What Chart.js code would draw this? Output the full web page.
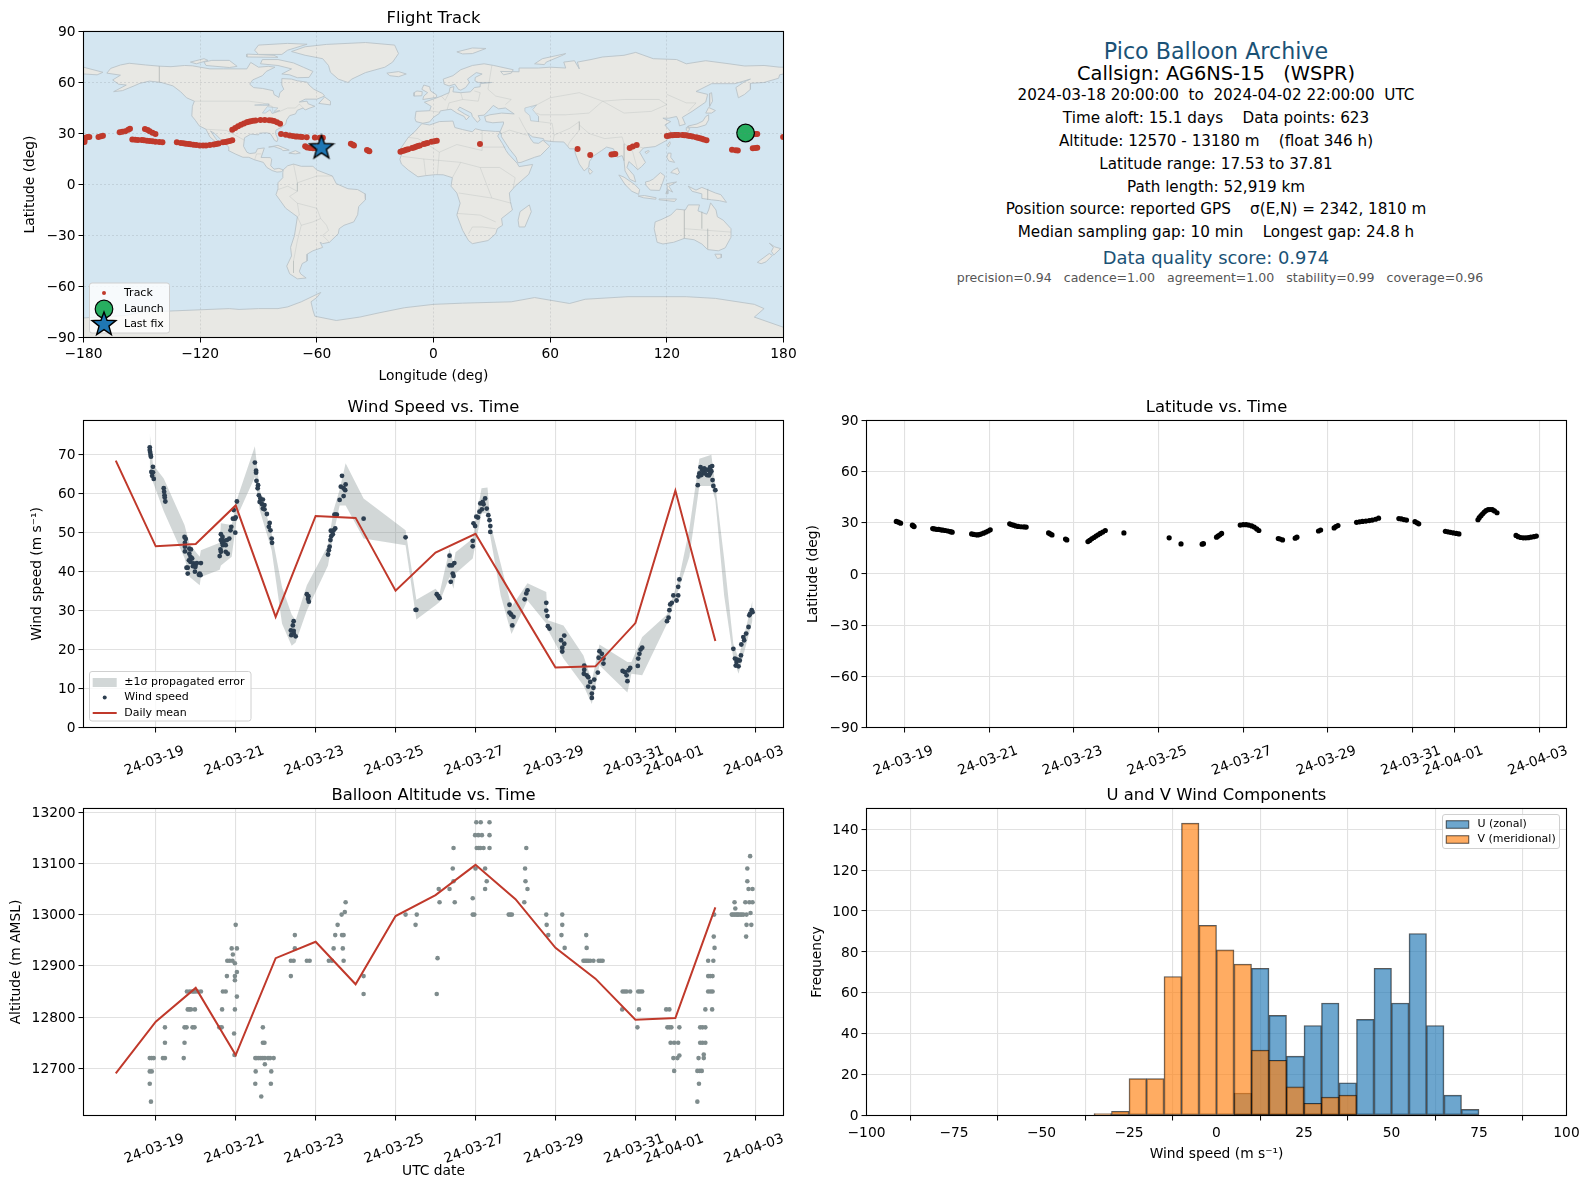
<!DOCTYPE html>
<html>
<head>
<meta charset="utf-8">
<title>Pico Balloon Archive</title>
<script src="https://cdn.jsdelivr.net/npm/chart.js@4"></script>
<style>
  html, body { margin: 0; padding: 0; background: #fff; }
  body { width: 1589px; height: 1189px; position: relative; overflow: hidden; font-family: "DejaVu Sans", sans-serif; }
  canvas { position: absolute; }
  .info { position: absolute; left: 1216px; transform: translate(-50%, -50%); white-space: pre; }
</style>
</head>
<body>
<canvas id="mapChart"></canvas>
<canvas id="windChart"></canvas>
<canvas id="latChart"></canvas>
<canvas id="altChart"></canvas>
<canvas id="histChart"></canvas>
<script>
// ---- data (x of the time series = days after 2024-03-19 00:00 UTC) ----
const dateTicks = [0, 2, 4, 6, 8, 10, 12, 13, 15];
const dateLabels = ["24-03-19", "24-03-21", "24-03-23", "24-03-25", "24-03-27", "24-03-29", "24-03-31", "24-04-01", "24-04-03"];
const lonTicks = [-180, -120, -60, 0, 60, 120, 180];
const lonLabels = ["−180", "−120", "−60", "0", "60", "120", "180"];
const latTicks = [-90, -60, -30, 0, 30, 60, 90];
const latLabels = ["−90", "−60", "−30", "0", "30", "60", "90"];
const windTicks = [0, 10, 20, 30, 40, 50, 60, 70];
const altTicks = [12700, 12800, 12900, 13000, 13100, 13200];
const freqTicks = [0, 20, 40, 60, 80, 100, 120, 140];
const histTicks = [-100, -75, -50, -25, 0, 25, 50, 75, 100];
const histLabels = ["−100", "−75", "−50", "−25", "0", "25", "50", "75", "100"];

const infoLines = [
  "Pico Balloon Archive",
  "Callsign: AG6NS-15   (WSPR)",
  "2024-03-18 20:00:00  to  2024-04-02 22:00:00  UTC",
  "Time aloft: 15.1 days    Data points: 623",
  "Altitude: 12570 - 13180 m    (float 346 h)",
  "Latitude range: 17.53 to 37.81",
  "Path length: 52,919 km",
  "Position source: reported GPS    σ(E,N) = 2342, 1810 m",
  "Median sampling gap: 10 min    Longest gap: 24.8 h",
  "Data quality score: 0.974",
  "precision=0.94   cadence=1.00   agreement=1.00   stability=0.99   coverage=0.96",
];

const dailyDays = [-1, 0, 1, 2, 3, 4, 5, 6, 7, 8, 9, 10, 11, 12, 13, 14];
const dailyWind = [68.5, 46.5, 47.1, 57, 28.4, 54.3, 53.8, 35.1, 44.9, 49.7, 32.5, 15.4, 15.7, 26.8, 60.8, 22.2];
const dailyAlt = [12690, 12791, 12857, 12726, 12915, 12947, 12864, 12997, 13038, 13097, 13030, 12935, 12875, 12795, 12798, 13014];

const windPoints = [
  [-.15,71.9],[-.15,71.2],[-.14,70.7],[-.13,70],[-.12,69.5],[-.07,66.9],[-.11,65.6],[-.07,65.5],[-.09,64.6],[-.05,63.8],
  [.2,61.4],[.21,60.5],[.22,59.6],[.225,59],[.24,58],
  [.72,48.9],[.75,48.4],[.73,47.4],[.73,46.4],[.84,45.9],[.88,45.7],[.73,45.2],[.84,44.6],[.87,43.8],[.83,42.9],[.91,43.4],[.87,42.5],[.8,41],[.77,41],[.95,42.1],[.99,41.6],[1.03,42.2],[1.13,42.2],[.93,41.4],[.99,41.2],[.8,39.5],[.98,40],[1.1,39.5],[1.12,39.1],[1.08,39.2],
  [1.63,49.6],[1.67,48.9],[1.63,48.1],[1.66,47.4],[1.72,47.9],[1.78,48.1],[1.68,46.8],[1.75,46.8],[1.62,45.7],[1.63,45.1],[1.6,44],[1.75,45.1],[1.8,44.6],[1.84,48.5],[1.87,50.6],[1.89,51.5],[1.99,50],[1.98,53.6],[1.93,53.6],[1.95,55.8],[2,53.9],[2.03,58],
  [2.48,68],[2.51,65.9],[2.51,65.4],[2.52,63.3],[2.56,62.2],[2.55,61.4],[2.58,59.6],[2.62,58.8],[2.68,58.5],[2.6,57.9],[2.66,57.3],[2.72,57.1],[2.68,56.2],[2.72,56],[2.78,54.8],[2.85,52.5],[2.83,51.5],[2.87,50.6],[2.9,48.5],[2.91,47.4],
  [3.45,27.3],[3.43,26.2],[3.38,24.9],[3.45,24.8],[3.39,23.7],[3.5,23.4],[3.45,24.2],[3.78,34.2],[3.82,33.7],[3.81,33],[3.83,32.3],
  [4.31,44.4],[4.33,45.5],[4.35,46.4],[4.37,48.1],[4.39,49.1],[4.43,49.6],[4.38,50.5],[4.49,51.1],[4.45,50.6],[4.47,54.6],[4.53,54.6],[4.5,54.6],[4.6,58.4],[4.7,59.4],[4.74,60.9],[4.7,61.4],[4.63,61.8],[4.75,62.4],[4.66,64.6],
  [5.2,53.6],[6.25,48.8],[6.52,30.2],[6.5,30.2],
  [7.03,34.2],[7.07,33.7],[7.1,33.2],[7.35,44.1],[7.35,41.6],[7.41,41.6],[7.47,42.2],[7.43,39.5],[7.45,38.9],[7.38,37.4],
  [7.93,46.5],[7.93,47.9],[7.95,52.4],[7.99,51.7],[8.02,54.1],[8.06,53.9],[8.1,55.4],[8.16,56],[8.12,57.5],[8.18,57.9],[8.24,58.8],[8.2,57.3],[8.28,56.2],[8.32,54.5],[8.35,53.2],[8.37,51.7],[8.37,50.2],
  [8.85,31.5],[8.85,29.5],[8.89,29],[8.95,28.4],[8.92,26.2],[9.3,35.2],[9.27,34.4],[9.23,32.9],[9.77,32],[9.77,30],[9.8,28.6],[9.81,26],[9.85,25.4],
  [10.22,23.6],[10.14,22.4],[10.22,21.5],[10.17,20.5],[10.17,19.5],
  [10.72,15.9],[10.72,14.8],[10.71,13.8],[10.78,13.4],[10.82,12.9],[10.87,11.7],[10.82,10.5],[10.95,10.2],[10.91,8.7],[10.91,7.6],[10.97,12.3],[11.06,14.1],
  [11.1,19.6],[11.16,18.9],[11.08,17.9],[11.2,17.7],[11.2,16.4],[11.68,14.5],[11.74,14.2],[11.83,14.7],[11.87,15.3],[11.78,13.4],[11.8,11.9],
  [12.06,15.8],[12.07,17.7],[12.1,18.9],[12.13,20],[12.17,20.5],[12.79,27.3],[12.83,28.2],[12.85,30.1],[12.87,31.6],[12.91,32],[12.95,33.9],[13.03,32.6],[13.07,33.9],[13.1,38],[13.07,36.1],
  [13.56,62.2],[13.6,65.2],[13.63,66.8],[13.7,65.6],[13.79,64.8],[13.83,66],[13.92,67.1],[13.87,65.2],[13.93,63.5],[13.95,62],[14,60.9],[13.58,64.4],[13.65,64.8],[13.74,65.2],[13.87,66.8],[13.77,66.2],[13.67,66],[13.72,66.5],[13.9,65.8],[13.84,64.7],
  [14.45,20.2],[14.49,17.7],[14.53,16.8],[14.58,15.7],[14.64,18.5],[14.65,21.3],[14.7,23.2],[14.77,24.1],[14.83,25.8],[14.85,28.8],[14.91,30.1],[14.93,29.6],[14.51,15.9],[14.55,17.4],[14.61,17.2],[14.72,22.4],[14.87,29.2],
];

const bandDays = [-.15, -.07, .2, .72, .85, 1.1, 1.13, 1.6, 1.63, 1.9, 2.03, 2.48, 2.6, 2.9, 3.16, 3.4, 3.5, 3.78, 4.31, 4.45, 4.6, 4.75, 5.2, 6.25, 6.52, 7, 7.1, 7.35, 7.45, 7.5, 7.93, 8.15, 8.3, 8.37, 8.63, 8.9, 9.3, 9.77, 9.81, 10.2, 10.7, 10.91, 11.1, 11.8, 11.9, 12.17, 12.79, 13.1, 13.35, 13.6, 13.9, 14, 14.22, 14.45, 14.58, 14.93];
const bandHigh = [75.5, 67.5, 63.9, 52, 47, 43.8, 45.5, 47.4, 52.4, 52, 58.5, 72.2, 61, 49.8, 36, 29, 27.5, 36.5, 46.8, 55.8, 61, 67.8, 58.8, 50.6, 32.8, 35.6, 34.4, 45.9, 42, 45, 48.5, 61.4, 61.6, 52.4, 42, 31, 37, 34.8, 27.5, 26.2, 18.5, 12, 21.3, 16.8, 16.8, 23.2, 29, 38.6, 51, 69, 70, 62, 43.4, 21.5, 17.7, 32.6];
const bandLow = [66, 63, 55.5, 43.5, 38.6, 36.5, 38.6, 40.5, 41.6, 43.8, 54, 64.3, 55.8, 45.5, 26.6, 21, 21.8, 30, 41.6, 49.8, 57, 57, 48.5, 46.8, 27.7, 31.4, 32.2, 38.6, 35.6, 39.5, 43.4, 55, 55, 49, 33.9, 24, 32.6, 26.7, 25, 17.7, 10.8, 6, 16, 9, 13.8, 13.4, 26.6, 36, 43.8, 62, 62, 58.4, 33.9, 17.7, 13.8, 27.5];

const altPoints = [
  [-.12,12635],[2.64,12645],[-.15,12670],[2.49,12670],[2.88,12670],[-.15,12694],[-.1,12694],[2.5,12694],[2.89,12694],[2.73,12708],
  [-.15,12720],[-.1,12720],[-.05,12720],[.18,12720],[.23,12720],[.7,12720],[2.49,12720],[2.53,12720],[2.58,12720],[2.63,12720],[2.68,12720],[2.73,12720],[2.81,12720],[2.86,12720],[2.95,12720],[1.97,12726],
  [.23,12750],[.72,12750],[2.68,12750],[2.72,12750],[1.96,12768],[.23,12780],[.72,12780],[.77,12780],[.92,12780],[.97,12780],[1.59,12780],[1.65,12780],[2.68,12780],
  [.8,12815],[.84,12815],[.88,12815],[.98,12815],[1.66,12815],[1.98,12815],
  [.78,12850],[.85,12850],[.91,12850],[.95,12850],[.99,12850],[1.05,12850],[1.13,12850],[1.68,12850],[1.75,12850],[2.03,12840],
  [1.78,12880],[1.98,12880],[3.38,12880],[5.2,12880],[1.98,12872],[2.03,12888],
  [1.79,12910],[1.85,12910],[1.92,12910],[3.38,12910],[3.45,12910],[3.78,12910],[3.85,12910],[4.33,12910],[4.41,12910],[4.7,12910],[1.98,12905],[1.93,12922],
  [1.9,12934],[2.03,12934],[3.48,12934],[4.45,12934],[4.68,12934],[3.48,12960],[4.49,12960],[4.66,12960],[4.7,12960],[2,12980],[4.55,12980],[6.5,12980],
  [4.65,13000],[6.25,13000],[6.53,13000],[4.73,13005],[4.75,13024],[5.2,12845],
  [7.05,12915],[7.03,12845],[7.08,13050],[7.35,13050],[8.24,13050],[9.3,13050],[7.1,13024],[7.48,13024],[9.22,13024],[7.45,13065],[8.28,13065],[9.25,13065],
  [7.43,13090],[8,13090],[8.24,13090],[9.24,13090],[7.45,13130],[8.03,13130],[8.08,13130],[8.12,13130],[8.2,13130],[8.35,13130],[9.27,13130],
  [7.99,13155],[8.07,13155],[8.16,13155],[8.35,13155],[8.02,13180],[8.13,13180],[8.35,13180],[7.93,13032],
  [7.93,13000],[7.97,13000],[8.83,13000],[8.87,13000],[8.91,13000],[9.77,13000],[10.17,13000],[14.41,13000],[14.44,13000],[14.48,13000],[14.52,13000],[14.55,13000],[14.58,13000],[14.62,13000],[14.66,13000],[14.7,13000],[14.78,13000],[13.97,13000],
  [9.78,12980],[10.17,12980],[14.78,12980],[14.9,12980],[9.82,12960],[10.15,12960],[10.77,12960],[13.96,12957],[14.77,12957],[10.23,12935],[10.78,12935],[13.98,12935],
  [10.7,12910],[10.74,12910],[10.78,12910],[10.82,12910],[10.87,12910],[10.95,12910],[11.08,12910],[11.13,12910],[11.18,12910],[13.82,12910],[13.95,12910],[13.82,12880],[13.87,12880],[13.93,12880],
  [11.68,12850],[11.73,12850],[11.78,12850],[11.87,12850],[12.07,12850],[12.12,12850],[12.17,12850],[13.82,12850],[13.88,12850],[13.93,12850],
  [11.67,12815],[12.09,12815],[12.77,12815],[12.85,12815],[13.75,12815],[13.92,12815],[12.05,12780],[12.8,12780],[12.85,12780],[12.9,12780],[13.1,12780],[13.62,12780],[13.68,12780],[13.75,12780],
  [12.88,12750],[12.97,12750],[13.07,12750],[13.62,12750],[13.68,12750],[13.75,12750],[12.95,12720],[13.05,12720],[13.1,12725],[13.58,12720],[13.71,12727],[13.71,12720],[12.97,12695],[13.55,12695],[13.61,12695],[13.66,12695],[13.59,12670],[13.55,12635],
  [14.48,13024],[14.5,13012],[14.75,13024],[14.85,13024],[14.93,13024],[14.83,13050],[14.93,13050],[14.8,13065],[14.8,13090],[14.87,13114],[14.88,13003],
];

const latPoints = [
  [-.2,30.8],[-.15,30.4],[-.1,29.8],[.18,28.6],[.2,28.2],[.22,27.8],
  [.66,26.6],[.7,26.4],[.75,26.2],[.8,26.1],[.85,25.9],[.9,25.7],[.96,25.5],[1.02,25.2],[1.08,24.8],[1.12,24.5],
  [1.58,23.5],[1.63,23.2],[1.68,23],[1.72,22.9],[1.76,23.1],[1.8,23.4],[1.86,23.9],[1.92,24.6],[1.97,25.2],[2.02,25.9],
  [2.48,29.4],[2.52,29],[2.57,28.6],[2.62,28.2],[2.68,27.9],[2.75,27.7],[2.82,27.6],[2.87,27.5],
  [3.4,24.1],[3.44,23.5],[3.48,22.9],[3.8,20.5],[3.83,20],
  [4.33,19],[4.37,19.7],[4.42,20.6],[4.47,21.4],[4.52,22.2],[4.57,23],[4.62,23.8],[4.68,24.6],[4.74,25.5],
  [5.18,24.1],[6.25,21.2],[6.53,17.6],[7.03,17.5],[7.06,17.8],
  [7.37,21.6],[7.41,22.3],[7.45,23],[7.49,23.8],
  [7.93,28.7],[8,28.9],[8.07,28.9],[8.13,28.7],[8.2,28.2],[8.26,27.5],[8.32,26.4],[8.37,25.5],
  [8.83,20.8],[8.87,20.5],[8.93,20],[9.23,21],[9.27,21.6],[9.78,25.2],[9.83,25.8],[10.15,27],[10.19,27.8],[10.24,28.4],
  [10.68,30.3],[10.75,30.6],[10.82,30.8],[10.9,31],[10.98,31.3],[11.05,31.6],[11.13,32.1],[11.2,32.7],
  [11.68,32.5],[11.74,32.3],[11.8,31.9],[11.86,31.6],[12.06,30.7],[12.11,30],[12.15,29.4],
  [12.78,25],[12.84,24.7],[12.9,24.4],[12.97,24.1],[13.04,23.8],[13.1,23.5],
  [13.55,31.8],[13.58,33],[13.62,34.2],[13.66,35.3],[13.7,36.3],[13.74,37.2],[13.79,37.7],[13.84,37.8],[13.89,37.7],[13.94,37],[14,35.9],
  [14.45,22.6],[14.5,21.9],[14.56,21.4],[14.62,21.2],[14.68,21.2],[14.74,21.3],[14.8,21.6],[14.87,21.9],[14.93,22.2],
];

const trackPoints = [
  [-179.5,25],[-179.5,26],[-179.5,27.4],[-178,28],[-177,28],[-172.3,28],[-171,28.4],[-170,28.7],
  [-161.4,30.7],[-160,31],[-158.5,31.3],[-157,32.2],[-156.1,32.8],[-148.4,32.6],[-147,32],[-146,31.3],[-144.5,30.5],[-143,29.7],
  [-154.9,26.4],[-153.4,26.3],[-152,26.2],[-150,26.1],[-148.9,26],[-147.4,25.8],[-146,25.6],[-144.5,25.4],[-143,25.2],[-141,25],[-139.4,24.8],
  [-132,24.8],[-130,24.4],[-128.6,24.2],[-127.4,24],[-126,23.8],[-125,23.6],[-123.5,23.4],[-122,23.2],[-120.2,23],[-118.5,23],[-117,23],[-115,23.2],[-113,23.5],[-111.7,23.8],[-110.5,24.1],[-108.3,24.8],[-107,25],[-106,25.3],[-104.8,25.6],[-103.5,26],
  [-103.5,32.2],[-102,33.2],[-100.5,34.2],[-99,35.1],[-97.5,35.9],[-96,36.6],[-95,36.9],[-94,37.2],[-92.7,37.5],[-91.5,37.7],[-89,37.9],[-86.8,38],[-84.5,37.8],[-83.2,37.6],[-82,37.3],[-80.5,36.6],[-78.9,35.8],
  [-78.4,29.7],[-76,29.2],[-74,28.8],[-72.4,28.5],[-71,28.3],[-70,28.2],[-68.7,28.1],[-67.5,28],[-65.2,27.8],[-61,27.6],[-58.5,27.5],[-56.9,27.5],
  [-66,22.5],[-65,21.8],[-63.5,21.4],[-62,21.3],[-60.5,21.4],[-59.3,21.5],
  [-42.5,24],[-41.5,23.4],[-40.9,22.9],[-34.2,20.3],[-33.5,19.9],[-33,19.5],
  [-17,19.3],[-16,19.7],[-15,20],[-14,20.4],[-13,20.8],[-11,21.4],[-10,21.8],[-9,22.2],[-8,22.6],[-7,23],[-5,23.8],[-4,24.1],[-3.1,24.4],[-1,25.1],[.4,25.5],[1.7,25.8],
  [23.9,23.8],[74.1,20.9],[80.6,17.4],[91.5,17.7],[92.5,17.8],[93.5,18],
  [100.9,21.5],[102.5,22.4],[104.5,23.3],
  [120,28.5],[121,28.7],[122,28.9],[123,29],[124,29.1],[125,29.1],[126,29.1],[128,29.1],[129,29],[130,28.9],[131,28.7],[132,28.5],[133.2,28.3],[135,27.8],[136,27.5],[137,27.2],[138,26.9],[139,26.5],[140.4,26],
  [153.5,20.4],[155.4,20.1],[156.5,20],[164.2,21.3],[165.5,21.5],[166.5,21.6],[165.5,29.7],[166.5,29.7],[179.8,28],
];
const launchPoint = [[160.5, 30.3]];
const lastFixPoint = [[-57.6, 21.9]];

// coastlines as lon/lat polygons
const landShapes = [
  [[-168,65.5],[-166,68.3],[-161,70.3],[-156.5,71.3],[-148,70.3],[-141,69.6],[-135,69.3],[-128,70],[-124,69.8],[-115,68],[-108,68],[-100,68],[-96,68],[-94,71.8],[-90,69],[-85,69.5],[-81.5,69],[-86,66.5],[-88,64],[-93,61.5],[-94.5,59],[-92.5,57],[-88,56.5],[-82.5,55.2],[-82,52.9],[-79.5,51.2],[-79,54],[-77,56],[-78,58.5],[-78,62.3],[-73,62],[-70,61],[-65,60.2],[-64,58.5],[-61.5,56],[-57,53.5],[-56,52],[-60,50.2],[-66,50.2],[-69,48.5],[-65,49],[-64.5,47.5],[-61,46],[-64,44.8],[-66,43.8],[-67,45],[-70,43.7],[-71,41.5],[-74,40.5],[-75.5,38],[-76,35.5],[-78,33.8],[-81,32],[-81.3,30],[-80,26.8],[-80.5,25.2],[-81.8,26],[-82.8,28],[-84,30],[-86,30.4],[-89.5,30.2],[-90,29.2],[-94,29.6],[-97.2,27.5],[-97.7,22.5],[-96,19],[-94.5,18.2],[-91.5,18.6],[-90.5,21],[-87,21.5],[-88,18],[-88.7,15.9],[-84,15.8],[-83.2,14.9],[-83.7,11],[-82,9],[-79.5,9.5],[-77.3,8.6],[-78.2,7.5],[-80.5,7.3],[-83,8.2],[-85.7,10],[-87.5,13],[-92,14.5],[-95,16],[-98,16],[-102,18],[-105.5,20],[-105.3,22],[-109,26],[-112.5,30],[-114.7,31.5],[-112,27],[-109.5,23],[-112,25],[-115,28],[-117,32.5],[-120.5,34.5],[-122.5,37.8],[-124.3,40.3],[-124,46],[-123,49],[-127,51],[-130,54.5],[-134,58],[-140,60],[-146,60.8],[-151,59.5],[-154,58],[-160,55.2],[-164.5,54.6],[-158,58.5],[-162,59],[-165,61.5],[-161,64.3],[-168,65.5]],
  [[-73,78.2],[-66,81],[-55,82.4],[-35,83.5],[-20,82],[-18,77],[-21,72],[-25,69],[-35,65.8],[-42,62],[-44,60],[-49,62],[-53,66],[-54,70],[-57,74],[-66,76],[-73,78.2]],
  [[-80,73.5],[-72,71.5],[-67,69],[-62,66.5],[-64,63],[-70,62.8],[-74,64.5],[-78,65],[-73,68],[-80,70],[-89,71],[-88,73.5],[-80,73.5]],
  [[-117,70],[-105,68.8],[-101,69.5],[-105,73],[-114,73],[-118,72],[-117,70]],
  [[-90,76.5],[-78,76.5],[-75,79],[-65,82.5],[-75,83],[-90,82],[-92,79],[-90,76.5]],
  [[-125,72],[-118,74],[-116,73],[-122,71],[-125,72]],
  [[-96,75],[-80,74.8],[-82,76],[-96,76.7],[-96,75]],
  [[-59,47.7],[-53,46.8],[-53,49],[-56,51.5],[-59,47.7]],
  [[-84.8,22],[-80,23],[-74.2,20.2],[-77.5,19.9],[-78,20.7],[-82,22.3],[-84.8,22]],
  [[-74.4,18.4],[-71,19.9],[-68.5,18.5],[-71,18],[-74.4,18.4]],
  [[-77.3,8.6],[-75,11],[-72,12],[-68,10.7],[-62,10.7],[-60,8.5],[-52,5],[-50,0.5],[-44,-2.5],[-39,-3],[-35.2,-5.5],[-35,-9],[-38.5,-13],[-39,-17.8],[-41,-22],[-46,-24],[-48.5,-26],[-49,-29],[-53.5,-34],[-57,-34.8],[-58.3,-34],[-57,-37],[-62,-39],[-65,-41],[-65,-45],[-67.5,-46.5],[-69,-51],[-68.3,-52.6],[-65.5,-55],[-70,-55.5],[-74,-52.5],[-75.5,-48],[-73,-42],[-73.5,-37],[-71.5,-30],[-70,-19],[-76,-14],[-81,-6],[-80,-2.5],[-80,1],[-77.5,4],[-77.5,7],[-77.3,8.6]],
  [[-9.5,38.8],[-9,43],[-2,43.4],[-1.2,46],[-4.7,48.4],[1.5,50.9],[4,52],[8,54],[8.5,57],[10.5,57.5],[10,54.5],[14,54],[19,54.5],[21,57],[24,57.5],[24,59.3],[30,60],[23,60],[21.3,61],[21.5,63],[25,65],[22,65.8],[17.5,62],[18.5,60],[16.5,57],[14,55.5],[12.8,56],[11,59],[8,58],[5.5,59],[5,62],[10,64],[14,67.5],[20,70],[26,71],[31,70],[41,67.5],[40,65.5],[36,64.5],[34.5,66.5],[44,66.3],[44,68.5],[54,68.5],[60,69],[68,68.5],[67,72],[72.5,72.8],[75,68],[74,72],[81,73.5],[87,75],[98,76],[104,77.7],[113,74],[125,73.5],[130,71],[140,72.8],[152,71],[160,69.7],[170,70],[178,69],[180,69],[180,65],[178,64.5],[177.5,62.5],[170,60],[163,59.5],[163,56],[160,53],[156.8,51],[155.5,57],[160,60.5],[163,62],[155,59.3],[143,59.3],[135,54.7],[141,53],[140,48.5],[133,43],[128,39.5],[129.5,35.5],[126.5,34.5],[126,37.5],[125,40],[121,39],[118,39],[122,37],[119,35],[122,31],[120,26],[114,22.3],[108,21.5],[106,19],[109,13],[107,10.5],[105,8.7],[103,11],[100.5,13.5],[99.5,10],[103,5.5],[104,1.5],[101,3],[98.5,8],[98,14],[97,17],[94.5,16],[92.5,21],[89,22],[86.5,20],[82,16.5],[80.2,13.5],[79.8,10.3],[77.5,8],[75,12],[73,18],[72.5,21],[70,21],[69,22.5],[67,25],[61.5,25.2],[57,25.8],[56.5,27],[51,28],[48.5,30],[50,26.8],[51.5,24.5],[54,24.2],[56.3,26],[59.8,22.5],[55,17],[52,16],[45,13],[43.3,12.8],[42.5,16],[39,21],[35,28],[34.9,29.5],[34.3,31.2],[35.9,35.5],[36,36.8],[30.5,36.3],[27,37],[26.3,40],[29,41],[35,42],[41.5,41.5],[37,45],[33.5,44.5],[30.7,46.5],[28,43],[26,40.8],[23,40.5],[24,38],[22.5,36.6],[20,40],[19.5,42],[13.5,45.5],[12.5,44],[16,41.5],[18.5,40],[16.8,38],[15.8,40],[12,42],[9,44.3],[3.5,43.3],[3,41.8],[0,39.5],[-2,36.8],[-5.5,36],[-9,37],[-9.5,38.8]],
  [[-180,69],[-170,66],[-173,64.5],[-180,65],[-180,69]],
  [[-6,35.8],[-2,35],[3,37],[10,37.3],[11,33.5],[15,32.3],[20,31],[21.5,32.8],[25,31.8],[32,31.2],[34.3,31.2],[33,28.5],[35.5,24],[37.3,20],[38.5,18],[43,12.5],[44,10.5],[51,11.8],[49,6],[42,-1],[39,-5],[39.5,-10],[40.6,-15],[35,-20],[35.5,-24],[32.8,-26],[32,-29],[28,-33],[20,-34.8],[18,-33],[15,-27],[12,-18],[13.7,-11],[12,-5],[9,-1],[9.7,4],[5,5.7],[1,5.8],[-4,5.2],[-8,4.5],[-13,8.5],[-16.5,12],[-17.3,14.8],[-16,19],[-17,21],[-13,27.7],[-9.7,31],[-6,35.8]],
  [[49.3,-12],[50.3,-16],[47,-25],[44,-25],[43.5,-21],[44.5,-16],[49.3,-12]],
  [[-5.5,50],[1.3,51.2],[1.6,52.7],[-1.5,55],[-2,57.5],[-5,58.5],[-6,56],[-3,54],[-5,52],[-5.5,50]],
  [[-10,52],[-6,52.2],[-5.8,54.6],[-8.5,55],[-10,54],[-10,52]],
  [[-24,65.5],[-18,66.4],[-14,65],[-18,63.4],[-22.5,64],[-24,65.5]],
  [[12,78],[20,80.3],[27,80],[20,77],[15,76.8],[12,78]],
  [[52,71],[56,74],[68,77],[66,75.8],[58,72],[57,70.5],[52,71]],
  [[130.9,33.7],[135.5,33.5],[140,35],[141.5,38],[141.5,41],[140,40],[138.5,37.3],[135.5,35.6],[131,34.4],[130.9,33.7]],
  [[140,42],[141.5,45.3],[145,43.5],[143,42],[140,42]],
  [[130,33.5],[131.8,33],[131,31],[130,32],[130,33.5]],
  [[142,46],[143.5,49],[143,54],[142,53.5],[142,49],[142,46]],
  [[120.2,23],[121.5,25.2],[121.8,24],[120.8,22],[120.2,23]],
  [[108.7,19],[110.5,20],[111,19.5],[109.6,18.2],[108.7,19]],
  [[120,16],[120.7,18.5],[122.2,18.4],[122,16],[124,13],[121,13.8],[120,16]],
  [[122,7],[123.5,8.6],[125.5,9.8],[126.5,7],[125.5,5.8],[124,6.5],[122,7]],
  [[80,9.7],[81.8,7.5],[80.5,6],[79.8,7.5],[80,9.7]],
  [[95.3,5.6],[98,4.3],[103.5,0],[106,-3],[105.5,-5.8],[102,-4],[98.5,0],[95.3,5.6]],
  [[105.2,-6.8],[108.5,-6.5],[114.5,-7.8],[114.3,-8.7],[108,-7.8],[105.2,-6.8]],
  [[109,1.5],[111,2],[113,3.2],[116.7,7],[119,5],[117.8,1],[116.3,-3.5],[111.5,-3.3],[109.3,-0.5],[109,1.5]],
  [[119.5,-5.5],[120.3,-2.5],[120,0.5],[125,1.5],[121,-1],[123,-4.5],[120.5,-3],[120.5,-5.5],[119.5,-5.5]],
  [[131,-1],[135,-3.3],[138,-1.7],[145,-5],[147.8,-6],[150.7,-10.5],[147,-9.5],[143,-9],[138,-8.2],[138,-5.5],[133,-4],[131,-1]],
  [[116,-8.5],[125,-8.5],[124,-10],[116,-9],[116,-8.5]],
  [[114,-22],[113.5,-26],[115,-34],[118,-35],[123.5,-34],[129,-31.7],[134,-32.5],[138,-35],[141,-38.3],[146.5,-39],[150,-37.3],[153,-31],[153,-26],[149,-21],[146,-19],[145.3,-15],[142.5,-10.8],[141.5,-15],[140.5,-17.5],[136,-15.5],[136.8,-12],[131,-12],[129.5,-15],[125,-14.5],[122,-18],[117,-20.7],[114,-22]],
  [[144.7,-41],[148,-41],[148,-43],[146,-43.6],[144.7,-41]],
  [[172.7,-34.5],[175.5,-36.7],[178.5,-37.7],[175,-41.5],[173.8,-39.3],[174.8,-37],[172.7,-34.5]],
  [[172.7,-40.6],[174.3,-41.7],[171,-45.5],[168.5,-46.6],[166.5,-45.8],[172.7,-40.6]],
  [[-180,-78.5],[-158,-77],[-150,-75],[-137,-74.5],[-120,-73.7],[-105,-73],[-100,-73.5],[-90,-73],[-80,-73],[-75,-72],[-68,-69],[-58,-63.5],[-60,-66.5],[-63,-69],[-62,-74],[-61,-77.5],[-50,-80],[-38,-78],[-28,-75.5],[-15,-72.5],[0,-70.5],[15,-69.8],[40,-69],[52,-66.5],[70,-70],[78,-67.5],[100,-66],[130,-66],[145,-67],[165,-70.5],[170,-73],[165,-78],[180,-84],[180,-90],[-180,-90],[-180,-78.5]],
];
const waterShapes = [
  [[47,45],[53,46.8],[51,44],[54,40],[54,37],[50,37.5],[49.5,40.5],[47,43],[47,45]],
  [[-92,46.7],[-85,47.5],[-84.7,46.5],[-88,46.5],[-92,46.7]],
  [[-88,42],[-85.5,45.8],[-80,45],[-82,43],[-79,43.5],[-83,41.7],[-84,44],[-86.5,42],[-88,42]],
];
const borderLines = [
  [[-123,49],[-95,49],[-88,48],[-83,46],[-82.5,42],[-79,43],[-75,45],[-71,45],[-69,47.3],[-67,45]],
  [[-141,69.6],[-141,60]],
  [[-117,32.5],[-106.5,31.8],[-97.2,26]],
  [[-92,14.5],[-91,18],[-88.5,18]],
  [[-52,5],[-60,5],[-70,1],[-70,-4],[-74,-7],[-70,-11],[-60,-14],[-58,-20],[-55,-24],[-54,-27],[-57,-30],[-53.5,-34]],
  [[-70,-19],[-68,-24],[-70,-33],[-72,-45],[-72,-52]],
  [[-72,12],[-70,1]],[[-80,-3],[-75,-1],[-70,-4]],[[-70,-11],[-69,-18],[-70,-19]],[[-58,-20],[-62,-22],[-68,-24]],
  [[-13,27.7],[-8,27],[-5,25],[3,19],[12,23.5],[25,20],[25,31.8]],
  [[25,22],[37,22]],
  [[-16,16.5],[-5,15],[14,13],[24,10],[34,10],[42,4],[41,-2]],
  [[9.7,4],[14,13]],[[13,-5],[30,-8],[40,-11]],[[12,-17],[24,-18],[32,-22]],[[18,-29],[20,-25],[25,-25],[32,-26]],[[24,10],[30,-8]],[[-5,15],[-4,5.2]],[[3,19],[2,6]],
  [[-2,43.4],[3,42.5]],[[8,48],[7,44]],[[6,49.5],[4,52]],[[14,54],[15,50],[23,49],[24,54],[21,55]],[[8,54],[6,49.5]],[[8,48],[15,50]],
  [[30,70],[28,56],[32,52],[40,50],[37,47]],
  [[50,45],[60,51],[75,54],[87,49],[80,42],[68,41],[55,41],[53,42]],
  [[87,49],[98,42],[112,43],[120,47],[116,50],[98,50],[87,49]],
  [[120,53],[130,48],[135,48],[131,43]],
  [[75,35],[80,30],[88,27],[97,28],[98,24],[102,21],[106,22],[108,21.5]],
  [[61.5,25.2],[62,29],[70,33],[75,37],[75,32],[70,25],[69,22.5]],
  [[48.5,30],[46,35],[44,39.5]],[[61,36],[54,37]],[[34,29.5],[39,32],[48,29]],[[61,36],[62,29]],[[98,24],[98,14]],[[102,21],[105,8.7]],
  [[129,-15],[129,-31.7]],[[141,-26],[141,-38]],[[129,-26],[153,-28]],[[138,-16],[138,-26]],
  [[141,-2.6],[141,-9]],
];

const histCenters = [-32.5, -27.5, -22.5, -17.5, -12.5, -7.5, -2.5, 2.5, 7.5, 12.5, 17.5, 22.5, 27.5, 32.5, 37.5, 42.5, 47.5, 52.5, 57.5, 62.5, 67.5, 72.5];
const histU = [0, 0, 0, 0, 0, 0, 0, 0, 11, 72, 49, 29, 44, 55, 16, 47, 72, 55, 89, 44, 10, 3];
const histV = [1, 2, 18, 18, 68, 143, 93, 81, 74, 32, 27, 14, 6, 9, 10, 0, 0, 0, 0, 0, 0, 0];

// ---- colours ----
const RED = "#c0392b";
const NAVY = "#2c3e50";
const GREY = "#7f8c8d";
const BAND = "rgba(127,140,141,0.35)";
const OCEAN = "#d4e6f1";
const LAND = "#e8e8e4";
const COAST = "#b9c3c8";
const GRID = "#e1e1e1";
const MAP_GRID = "rgba(120,125,130,0.22)";
const TITLE_BLUE = "#1a5276";
const LEGEND_FONT = 11;

Chart.defaults.font.family = '"DejaVu Sans", sans-serif';
Chart.defaults.font.size = 13.8;
Chart.defaults.color = "#000";
Chart.defaults.animation = false;

const toXY = (pts) => pts.map(([x, y]) => ({ x, y }));
const zipXY = (xs, ys) => xs.map((x, i) => ({ x, y: ys[i] }));

const starCanvas = document.createElement("canvas");
starCanvas.width = 28;
starCanvas.height = 28;
{
  const c = starCanvas.getContext("2d");
  c.beginPath();
  for (let i = 0; i < 10; i++) {
    const r = i % 2 ? 5.2 : 12.5;
    const a = -Math.PI / 2 + (i * Math.PI) / 5;
    c.lineTo(14 + r * Math.cos(a), 14.5 + r * Math.sin(a));
  }
  c.closePath();
  c.fillStyle = "#1f77b4";
  c.fill();
  c.lineWidth = 1.4;
  c.strokeStyle = "#000";
  c.stroke();
}

// axes frame and optional plot background
const framePlugin = (background) => ({
  id: "frame",
  beforeDraw(chart) {
    if (!background) return;
    const a = chart.chartArea;
    chart.ctx.fillStyle = background;
    chart.ctx.fillRect(a.left, a.top, a.width, a.height);
  },
  afterDraw(chart) {
    const a = chart.chartArea;
    chart.ctx.strokeStyle = "#000";
    chart.ctx.lineWidth = 1.1;
    chart.ctx.strokeRect(a.left, a.top, a.width, a.height);
  },
});

// legend drawn inside the axes, matplotlib style
const boxLegend = (cfg, origin) => ({
  id: "boxLegend",
  afterDraw(chart) {
    const ctx = chart.ctx;
    const ox = origin.x;
    const oy = origin.y;
    ctx.save();
    ctx.fillStyle = "rgba(255,255,255,0.8)";
    ctx.strokeStyle = "#d0d0d0";
    ctx.lineWidth = 1;
    ctx.beginPath();
    ctx.roundRect(cfg.x - ox, cfg.y - oy, cfg.w, cfg.h, 2.5);
    ctx.fill();
    ctx.stroke();
    ctx.font = LEGEND_FONT + 'px "DejaVu Sans"';
    ctx.textBaseline = "middle";
    for (const it of cfg.items) {
      const y = it.y - oy;
      const kx = cfg.keyX - ox;
      if (it.kind === "dot") {
        ctx.fillStyle = it.color;
        ctx.beginPath();
        ctx.arc(kx, y, it.r, 0, Math.PI * 2);
        ctx.fill();
        if (it.edge) {
          ctx.strokeStyle = it.edge;
          ctx.lineWidth = 1.2;
          ctx.stroke();
        }
      } else if (it.kind === "star") {
        ctx.drawImage(starCanvas, kx - 14, y - 14);
      } else if (it.kind === "line") {
        ctx.strokeStyle = it.color;
        ctx.lineWidth = 2;
        ctx.beginPath();
        ctx.moveTo(kx - cfg.keyW / 2, y);
        ctx.lineTo(kx + cfg.keyW / 2, y);
        ctx.stroke();
      } else {
        ctx.fillStyle = it.color;
        ctx.fillRect(kx - cfg.keyW / 2, y - cfg.keyH / 2, cfg.keyW, cfg.keyH);
        if (it.edge) {
          ctx.strokeStyle = it.edge;
          ctx.lineWidth = 1;
          ctx.strokeRect(kx - cfg.keyW / 2, y - cfg.keyH / 2, cfg.keyW, cfg.keyH);
        }
      }
      ctx.fillStyle = "#000";
      ctx.fillText(it.label, cfg.textX - ox, y);
    }
    ctx.restore();
  },
});

const fixedTicks = (values) => (scale) => {
  scale.ticks = values.map((value) => ({ value }));
};

function axisBase(values, labels, opts) {
  return {
    type: "linear",
    min: opts.min,
    max: opts.max,
    offset: false,
    afterBuildTicks: fixedTicks(values),
    grid: {
      color: opts.gridColor || GRID,
      lineWidth: opts.gridColor ? 0.9 : 1.1,
      tickColor: "#000",
      tickLength: 5,
      tickWidth: 1,
      z: opts.gridColor ? 1 : 0,
    },
    border: { display: false, dash: opts.gridColor ? [2, 2] : [] },
    ticks: {
      autoSkip: false,
      padding: opts.tickPad === undefined ? 3 : opts.tickPad,
      minRotation: opts.rotation || 0,
      maxRotation: opts.rotation || 0,
      labelOffset: opts.labelOffset || 0,
      callback: (v, i) => (labels ? labels[i] : String(v)),
    },
    title: opts.title
      ? { display: true, text: opts.title, font: { size: 13.8 }, padding: { top: opts.titlePad, bottom: opts.titlePad } }
      : { display: false },
  };
}

// every panel gets its axes box in page pixels, the margins stay fixed
function panel(id, box, cfg) {
  const M = { left: 83.5, right: 22.5, top: 30.5, bottom: 72.5 };
  const canvas = document.getElementById(id);
  const origin = { x: box.l - M.left, y: box.t - M.top };
  canvas.width = box.r - box.l + M.left + M.right;
  canvas.height = box.b - box.t + M.top + M.bottom;
  canvas.style.left = origin.x + "px";
  canvas.style.top = origin.y + "px";
  canvas.style.width = canvas.width + "px";
  canvas.style.height = canvas.height + "px";

  cfg.x.afterFit = (s) => { s.height = M.bottom; };
  cfg.y.afterFit = (s) => { s.width = M.left; };

  const plugins = [framePlugin(cfg.background)];
  if (cfg.legend) plugins.push(boxLegend(cfg.legend, origin));

  return new Chart(canvas, {
    type: cfg.type || "scatter",
    data: { datasets: cfg.datasets },
    options: {
      responsive: false,
      animation: false,
      grouped: cfg.grouped,
      layout: { autoPadding: false, padding: { right: M.right } },
      plugins: {
        legend: { display: false },
        tooltip: { enabled: false },
        title: {
          display: true,
          fullSize: false,
          text: cfg.title,
          color: "#000",
          font: { size: 16.4, weight: "normal", lineHeight: 1.2 },
          padding: { top: 8, bottom: 2.8 },
        },
      },
      scales: { x: cfg.x, y: cfg.y },
    },
    plugins,
  });
}

const TOP = { t: 31.5, b: 337.5 };
const MID = { t: 420.5, b: 727.5 };
const LOW = { t: 808.5, b: 1115.5 };
const LEFT = { l: 83.5, r: 783.5 };
const RIGHT = { l: 866.5, r: 1566.5 };
const DATE_OPTS = { rotation: 20, labelOffset: 28, tickPad: 10 };
const Y_OPTS = { labelOffset: 1 };

// ---- Flight Track ----
panel("mapChart", { ...LEFT, ...TOP }, {
  title: "Flight Track",
  background: OCEAN,
  x: axisBase(lonTicks, lonLabels, { min: -180, max: 180, title: "Longitude (deg)", titlePad: 25, gridColor: MAP_GRID, tickPad: 4 }),
  y: axisBase(latTicks, latLabels, { min: -90, max: 90, title: "Latitude (deg)", titlePad: 22, gridColor: MAP_GRID, ...Y_OPTS }),
  datasets: [
    ...landShapes.map((shape) => ({
      data: toXY(shape), showLine: true, fill: "shape", tension: 0, pointRadius: 0,
      backgroundColor: LAND, borderColor: COAST, borderWidth: 0.9, order: 6,
    })),
    ...waterShapes.map((shape) => ({
      data: toXY(shape), showLine: true, fill: "shape", tension: 0, pointRadius: 0,
      backgroundColor: OCEAN, borderColor: COAST, borderWidth: 0.7, order: 5,
    })),
    {
      data: borderLines.flatMap((line) => [...toXY(line), { x: NaN, y: NaN }]),
      showLine: true, tension: 0, pointRadius: 0, borderColor: "rgba(170,175,175,0.4)", borderWidth: 0.7, order: 4,
    },
    { data: toXY(trackPoints), pointRadius: 3, pointBorderWidth: 0, backgroundColor: RED, order: 3 },
    { data: toXY(launchPoint), pointRadius: 8.8, pointBorderWidth: 1.3, pointBorderColor: "#000", backgroundColor: "#27ae60", order: 2 },
    { data: toXY(lastFixPoint), pointStyle: starCanvas, pointRadius: 12, order: 1 },
  ],
  legend: {
    x: 89.5, y: 283, w: 80, h: 50, keyX: 104, keyW: 0, keyH: 0, textX: 124,
    items: [
      { kind: "dot", label: "Track", y: 293, color: RED, r: 2 },
      { kind: "dot", label: "Launch", y: 309, color: "#27ae60", edge: "#000", r: 8.8 },
      { kind: "star", label: "Last fix", y: 324 },
    ],
  },
});

// ---- Wind Speed vs. Time ----
panel("windChart", { ...LEFT, ...MID }, {
  title: "Wind Speed vs. Time",
  x: axisBase(dateTicks, dateLabels, { min: -1.8075, max: 15.705, ...DATE_OPTS }),
  y: axisBase(windTicks, null, { min: 0, max: 78.8, title: "Wind speed (m s⁻¹)", titlePad: 29.5, ...Y_OPTS }),
  datasets: [
    { data: zipXY(bandDays, bandHigh), showLine: true, tension: 0, pointRadius: 0, borderWidth: 0, fill: "+1", backgroundColor: BAND, order: 2 },
    { data: zipXY(bandDays, bandLow), showLine: true, tension: 0, pointRadius: 0, borderWidth: 0, order: 3 },
    { data: toXY(windPoints), pointRadius: 2.4, pointBorderWidth: 0, backgroundColor: NAVY, order: 1 },
    { data: zipXY(dailyDays, dailyWind), showLine: true, tension: 0, pointRadius: 0, borderColor: RED, borderWidth: 2, order: 0 },
  ],
  legend: {
    x: 89.5, y: 671.5, w: 161.5, h: 49.5, keyX: 104.7, keyW: 24, keyH: 9, textX: 124.3,
    items: [
      { kind: "patch", label: "±1σ propagated error", y: 682.5, color: "rgba(127,140,141,0.35)" },
      { kind: "dot", label: "Wind speed", y: 697.5, color: NAVY, r: 2 },
      { kind: "line", label: "Daily mean", y: 713, color: RED },
    ],
  },
});

// ---- Latitude vs. Time ----
panel("latChart", { ...RIGHT, ...MID }, {
  title: "Latitude vs. Time",
  x: axisBase(dateTicks, dateLabels, { min: -0.905, max: 15.643, ...DATE_OPTS }),
  y: axisBase(latTicks, latLabels, { min: -90, max: 90, title: "Latitude (deg)", titlePad: 22, ...Y_OPTS }),
  datasets: [{ data: toXY(latPoints), pointRadius: 2.6, pointBorderWidth: 0, backgroundColor: "#000" }],
});

// ---- Balloon Altitude vs. Time ----
panel("altChart", { ...LEFT, ...LOW }, {
  title: "Balloon Altitude vs. Time",
  x: axisBase(dateTicks, dateLabels, { min: -1.8075, max: 15.705, title: "UTC date", titlePad: 8, ...DATE_OPTS }),
  y: axisBase(altTicks, null, { min: 12608, max: 13207, title: "Altitude (m AMSL)", titlePad: 8, ...Y_OPTS }),
  datasets: [
    { data: toXY(altPoints), pointRadius: 2.3, pointBorderWidth: 0, backgroundColor: GREY, order: 1 },
    { data: zipXY(dailyDays, dailyAlt), showLine: true, tension: 0, pointRadius: 0, borderColor: RED, borderWidth: 2, order: 0 },
  ],
});

// ---- U and V Wind Components ----
panel("histChart", { ...RIGHT, ...LOW }, {
  type: "bar",
  grouped: false,
  title: "U and V Wind Components",
  x: axisBase(histTicks, histLabels, { min: -100, max: 100, title: "Wind speed (m s⁻¹)", titlePad: 25, tickPad: 5 }),
  y: axisBase(freqTicks, null, { min: 0, max: 150.15, title: "Frequency", titlePad: 26.5, ...Y_OPTS }),
  datasets: [
    {
      data: zipXY(histCenters, histU), backgroundColor: "rgba(31,119,180,0.65)", borderColor: "rgba(0,0,0,0.65)",
      borderWidth: 1, borderSkipped: false, barPercentage: 1, categoryPercentage: 1, order: 2,
    },
    {
      data: zipXY(histCenters, histV), backgroundColor: "rgba(255,127,14,0.65)", borderColor: "rgba(0,0,0,0.65)",
      borderWidth: 1, borderSkipped: false, barPercentage: 1, categoryPercentage: 1, order: 1,
    },
  ],
  legend: {
    x: 1442.5, y: 814.5, w: 117, h: 34, keyX: 1457.5, keyW: 22.5, keyH: 7.5, textX: 1477.5,
    items: [
      { kind: "patch", label: "U (zonal)", y: 824.5, color: "rgba(31,119,180,0.65)", edge: "rgba(0,0,0,0.65)" },
      { kind: "patch", label: "V (meridional)", y: 839.5, color: "rgba(255,127,14,0.65)", edge: "rgba(0,0,0,0.65)" },
    ],
  },
});

// ---- text block, top right ----
const infoY = [50.5, 73, 94.5, 117.5, 141, 163.5, 186.5, 209, 232, 257, 277];
const infoStyle = (i) => {
  if (i === 0) return { size: 22.2, color: TITLE_BLUE };
  if (i === 1) return { size: 19.4, color: "#000" };
  if (i === 9) return { size: 17.9, color: TITLE_BLUE };
  if (i === 10) return { size: 12.55, color: "#555", left: 1220 };
  return { size: 15.2, color: "#000" };
};
infoLines.forEach((text, i) => {
  const d = document.createElement("div");
  const s = infoStyle(i);
  d.className = "info";
  d.textContent = text;
  d.style.top = infoY[i] + "px";
  d.style.fontSize = s.size + "px";
  d.style.color = s.color;
  if (s.left) d.style.left = s.left + "px";
  document.body.appendChild(d);
});
</script>
</body>
</html>
